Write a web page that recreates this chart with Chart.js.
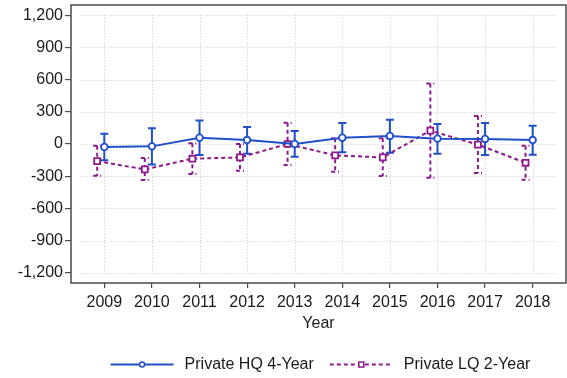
<!DOCTYPE html>
<html>
<head>
<meta charset="utf-8">
<script src="https://cdn.jsdelivr.net/npm/chart.js@4/dist/chart.umd.min.js"></script>
<style>
  html, body { margin: 0; padding: 0; background: #fff; }
  #wrap { width: 567px; height: 378px; }
</style>
</head>
<body>
<div id="wrap"><canvas id="c" width="567" height="378"></canvas></div>
<script>
// Yearly estimates with 95% confidence bounds
const years = [2009, 2010, 2011, 2012, 2013, 2014, 2015, 2016, 2017, 2018];

const hqMean = [-28, -22, 58, 37, 0, 59, 75, 50, 47, 37];
const hqLow  = [-152, -190, -103, -90, -118, -78, -81, -90, -103, -100];
const hqHigh = [96, 147, 218, 159, 121, 196, 227, 187, 196, 171];

const lqMean = [-159, -237, -137, -125, 0, -106, -125, 125, -6, -175];
const lqLow  = [-296, -336, -280, -249, -196, -259, -299, -315, -271, -334];
const lqHigh = [-16, -131, 6, 0, 199, 53, 53, 564, 262, -16];

const yTicks = [-1200, -900, -600, -300, 0, 300, 600, 900, 1200];

const seriesNames = ['Private HQ 4-Year', 'Private LQ 2-Year'];

const BLUE = '#1f4fc9';
const PURPLE = '#8c1a8c';
const FONT = '"Liberation Sans", Arial, sans-serif';
const LQ_DODGE = -0.15; // small horizontal shift so the two series don't overlap

const toPoints = (vals, shift) => vals.map((v, i) => ({ x: years[i] + shift, y: v }));

// Dotted grid restricted to the tick range
const innerGrid = {
  id: 'innerGrid',
  beforeDatasetsDraw(chart) {
    const { ctx, scales: { x, y } } = chart;
    const x0 = x.getPixelForValue(years[0] - 0.5);
    const x1 = x.getPixelForValue(years[years.length - 1] + 0.5);
    const y0 = y.getPixelForValue(yTicks[0]);
    const y1 = y.getPixelForValue(yTicks[yTicks.length - 1]);
    ctx.save();
    ctx.strokeStyle = '#c8c8c8';
    ctx.lineWidth = 1;
    ctx.setLineDash([1, 2]);
    yTicks.forEach(t => {
      const py = Math.round(y.getPixelForValue(t)) + 0.5;
      ctx.beginPath(); ctx.moveTo(x0, py); ctx.lineTo(x1, py); ctx.stroke();
    });
    years.forEach(t => {
      const px = Math.round(x.getPixelForValue(t)) + 0.5;
      ctx.beginPath(); ctx.moveTo(px, y1); ctx.lineTo(px, y0); ctx.stroke();
    });
    ctx.restore();
  }
};

// Capped confidence-interval bars
const errorBars = {
  id: 'errorBars',
  beforeDatasetsDraw(chart) {
    const { ctx, scales: { x, y } } = chart;
    chart.data.datasets.forEach(ds => {
      const eb = ds.errorBars;
      if (!eb) return;
      ctx.save();
      ctx.strokeStyle = ds.borderColor;
      ctx.lineWidth = 2;
      ctx.setLineDash(ds.borderDash || []);
      ds.data.forEach((p, i) => {
        const px = x.getPixelForValue(p.x);
        const lo = y.getPixelForValue(eb.low[i]);
        const hi = y.getPixelForValue(eb.high[i]);
        ctx.beginPath();
        ctx.moveTo(px - 4, hi); ctx.lineTo(px + 4, hi);
        ctx.moveTo(px, hi); ctx.lineTo(px, lo);
        ctx.moveTo(px - 4, lo); ctx.lineTo(px + 4, lo);
        ctx.stroke();
      });
      ctx.restore();
    });
  }
};

// Plot frame
const frame = {
  id: 'frame',
  afterDatasetsDraw(chart) {
    const { ctx, chartArea: a } = chart;
    ctx.save();
    ctx.strokeStyle = '#4a4a4a';
    ctx.lineWidth = 1.5;
    ctx.strokeRect(a.left, a.top, a.right - a.left, a.bottom - a.top);
    ctx.restore();
  }
};

// Legend: line sample with marker, then label
const lineLegend = {
  id: 'lineLegend',
  afterDraw(chart) {
    const { ctx, chartArea: a } = chart;
    ctx.save();
    ctx.font = '16px ' + FONT;
    ctx.textBaseline = 'middle';
    const sample = 63, gapText = 11, gapItem = 16;
    const items = chart.data.datasets.map(ds => ({ ds, w: ctx.measureText(ds.label).width }));
    const total = items.reduce((s, it) => s + sample + gapText + it.w, 0) + gapItem * (items.length - 1);
    let cx = (a.left + a.right) / 2 - total / 2 + 2;
    const cy = 364.5;
    items.forEach(({ ds, w }) => {
      ctx.strokeStyle = ds.borderColor;
      ctx.lineWidth = 2;
      ctx.setLineDash(ds.borderDash || []);
      ctx.beginPath(); ctx.moveTo(cx, cy); ctx.lineTo(cx + sample, cy); ctx.stroke();
      ctx.setLineDash([]);
      const mx = cx + sample / 2;
      ctx.fillStyle = '#fff';
      ctx.lineWidth = 1.5;
      ctx.beginPath();
      if (ds.pointStyle === 'rect') ctx.rect(mx - 2.5, cy - 2.5, 5, 5);
      else ctx.arc(mx, cy, 2.5, 0, Math.PI * 2);
      ctx.fill(); ctx.stroke();
      ctx.fillStyle = '#1a1a1a';
      ctx.fillText(ds.label, cx + sample + gapText, cy);
      cx += sample + gapText + w + gapItem;
    });
    ctx.restore();
  }
};

const fmt = v => v.toLocaleString('en-US');

new Chart(document.getElementById('c'), {
  type: 'line',
  data: {
    datasets: [
      {
        label: seriesNames[0],
        data: toPoints(hqMean, 0),
        errorBars: { low: hqLow, high: hqHigh },
        borderColor: BLUE,
        backgroundColor: '#fff',
        borderWidth: 2,
        pointStyle: 'circle',
        pointRadius: 3.3,
        pointBorderWidth: 1.8,
        pointBackgroundColor: '#fff',
        pointBorderColor: BLUE,
        tension: 0
      },
      {
        label: seriesNames[1],
        data: toPoints(lqMean, LQ_DODGE),
        errorBars: { low: lqLow, high: lqHigh },
        borderColor: PURPLE,
        backgroundColor: '#fff',
        borderWidth: 2,
        borderDash: [4, 3],
        pointStyle: 'rect',
        pointRadius: 4.2,
        pointBorderWidth: 1.8,
        pointBackgroundColor: '#fff',
        pointBorderColor: PURPLE,
        tension: 0
      }
    ]
  },
  options: {
    responsive: false,
    animation: false,
    devicePixelRatio: 1,
    layout: { autoPadding: false, padding: { left: 0, right: 1, top: 5, bottom: 43 } },
    plugins: { legend: { display: false }, tooltip: { enabled: false } },
    scales: {
      x: {
        type: 'linear',
        min: 2008.3,
        max: 2018.7,
        afterBuildTicks: s => { s.ticks = years.map(v => ({ value: v })); },
        afterFit: s => { s.height = 52; s.paddingLeft = 0; s.paddingRight = 0; },
        border: { display: false },
        grid: { drawOnChartArea: false, drawTicks: true, tickLength: 5, color: '#4a4a4a', lineWidth: 1.2 },
        ticks: { color: '#1a1a1a', font: { family: FONT, size: 16 }, padding: 5, callback: v => String(v), autoSkip: false, maxRotation: 0 },
        title: { display: true, text: 'Year', color: '#1a1a1a', font: { family: FONT, size: 16 }, padding: { top: 4, bottom: 2 } }
      },
      y: {
        min: -1295,
        max: 1295,
        afterBuildTicks: s => { s.ticks = yTicks.map(v => ({ value: v })); },
        afterFit: s => { s.width = 71; s.paddingTop = 0; s.paddingBottom = 0; },
        border: { display: false },
        grid: { drawOnChartArea: false, drawTicks: true, tickLength: 6, color: '#4a4a4a', lineWidth: 1.2 },
        ticks: { color: '#1a1a1a', font: { family: FONT, size: 16 }, padding: 2, callback: v => fmt(v) }
      }
    }
  },
  plugins: [innerGrid, errorBars, frame, lineLegend]
});
</script>
</body>
</html>
